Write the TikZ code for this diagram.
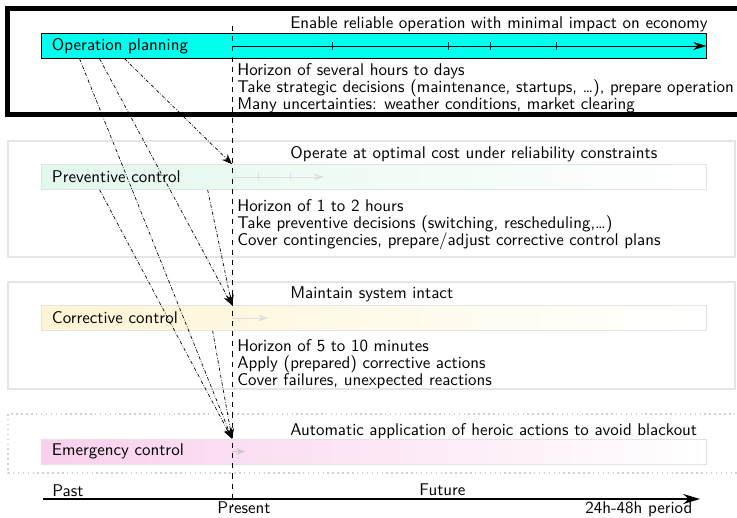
\documentclass[tikz,border=0pt]{standalone}
\usepackage{tikz}
\usetikzlibrary{arrows.meta,calc}

\definecolor{plancyan}{RGB}{0,255,238}
\definecolor{prevmint}{RGB}{226,248,236}
\definecolor{corrcream}{RGB}{255,245,212}
\definecolor{emerpink}{RGB}{250,208,236}

\tikzset{
  bar/.style={draw, rectangle, minimum height=14.75pt, text width=379.4pt, inner xsep=6.5pt, inner ysep=0pt, align=left},
  fadedbar/.style={bar, draw=gray!22, left color=#1, right color=white},
  panel/.style={draw=gray!20, line width=0.9pt},
  hint/.style={-{Stealth[length=6pt,width=4.6pt]}, dash pattern=on 2pt off 1pt on 0.4pt off 1pt, thin},
  note/.style={anchor=base west, inner sep=0pt},
  info/.style={anchor=north west, inner sep=0pt, align=left}
}

\begin{document}
\begin{tikzpicture}[x=0.59pt, y=-0.59pt, font=\sffamily\fontsize{10}{10}\selectfont]

\useasboundingbox (0,0) rectangle (737,517);

% Panels (top one highlighted)
\draw[line width=2.95pt] (7,8) rectangle (760,114);
\draw[panel] (8,141) rectangle (735,257);
\draw[panel] (8,282) rectangle (735,389);
\draw[panel, draw=gray!35, dotted] (8,414) rectangle (760,473);

% Control levels
\node[bar, fill=plancyan] (oplan) at (373.5,46) {Operation planning};
\node[fadedbar=prevmint] (prev) at (373.5,177) {Preventive control};
\node[fadedbar=corrcream] (corr) at (373.5,318) {Corrective control};
\node[fadedbar=emerpink] (emer) at (373.5,451.5) {Emergency control};

% Present
\coordinate (nowtop) at (232,26);
\coordinate (nowbot) at (232,507);
\draw[dashed] (nowtop) -- (nowbot);

% Horizons inside the bars
\draw[-{Stealth[length=7.7pt,width=4.7pt]}] (nowtop |- oplan) -- (oplan.east);
\foreach \x in {332,448,490,556}
  \draw (\x,42) -- (\x,50);
\draw[gray!25, -{Stealth[length=6pt,width=4pt]}] (nowtop |- prev) -- +(92,0);
\foreach \x in {258,290}
  \draw[gray!25] (\x,173) -- (\x,181);
\draw[gray!25, -{Stealth[length=6pt,width=4pt]}] (nowtop |- corr) -- +(36,0);
\draw[gray!40, -{Stealth[length=5pt,width=4pt]}] (nowtop |- emer) -- +(13,0);

% Planning feeds the other levels
\draw[hint] ($(oplan.south west)+(84,0)$) -- (nowtop |- prev.north);
\draw[hint] ($(oplan.south west)+(59,0)$) -- (nowtop |- corr.north);
\draw[hint] ($(oplan.south west)+(39,0)$) -- (nowtop |- emer.north);
\draw[hint] ($(prev.south west)+(167,0)$) -- (nowtop |- corr.north);
\draw[hint] ($(prev.south west)+(59,0)$) -- (nowtop |- emer.north);
\draw[hint] ($(corr.south west)+(172,0)$) -- (nowtop |- emer.north);

% Goals and descriptions
\node[note] (goal1) at (290,28) {Enable reliable operation with minimal impact on economy};
\node[info] (info1) at (237,63) {Horizon of several hours to days\\
  Take strategic decisions (maintenance, startups, \ldots), prepare operation\\
  Many uncertainties: weather conditions, market clearing};

\node[note] (goal2) at (290,158) {Operate at optimal cost under reliability constraints};
\node[info] (info2) at (237,199) {Horizon of 1 to 2 hours\\
  Take preventive decisions (switching, rescheduling,\ldots)\\
  Cover contingencies, prepare/adjust corrective control plans};

\node[note] (goal3) at (290,298) {Maintain system intact};
\node[info] (info3) at (237,339) {Horizon of 5 to 10 minutes\\
  Apply (prepared) corrective actions\\
  Cover failures, unexpected reactions};

\node[note] (goal4) at (290,435) {Automatic application of heroic actions to avoid blackout};

% Time axis
\coordinate (tstart) at (43,499);
\coordinate (tend) at (700,499);
\draw[line width=0.7pt, -{Stealth[length=10pt,width=6pt]}] (tstart) -- (tend);
\node[note] (past) at (52,496) {Past};
\node[note] (future) at (419,495) {Future};
\node[note, anchor=base] (present) at (244,513) {Present};
\node[note] (period) at (585,513) {24h-48h period};

\end{tikzpicture}
\end{document}
